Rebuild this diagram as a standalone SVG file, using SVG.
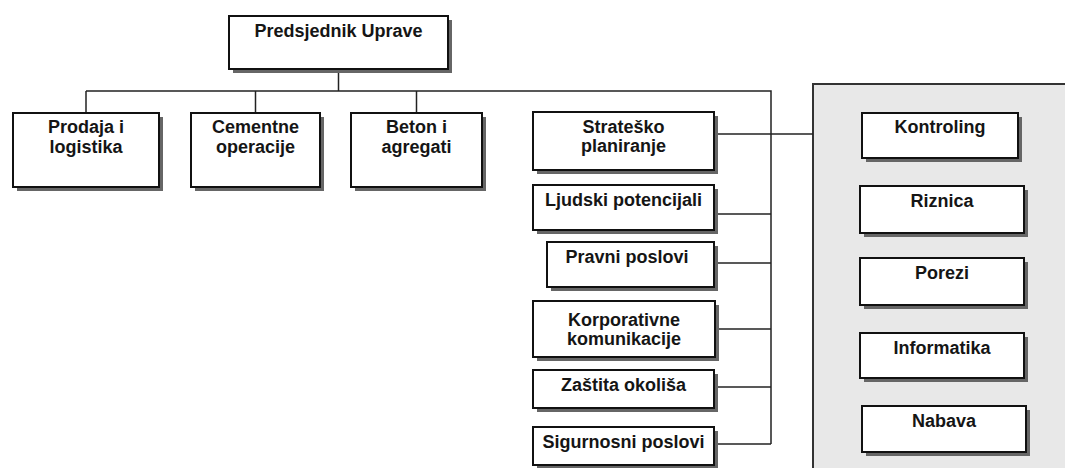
<svg xmlns="http://www.w3.org/2000/svg" width="1065" height="468" viewBox="0 0 1065 468">
<defs>
<style>
.box rect.b{fill:#fff;stroke:#111;stroke-width:2}
.box rect.s{fill:#666}
.box text{font-family:"Liberation Sans",Arial,sans-serif;font-weight:bold;font-size:18px;fill:#151515;text-anchor:middle}
.conn path{fill:none;stroke:#222;stroke-width:1.5}
.panel{fill:#e8e8e8;stroke:#333;stroke-width:2}
</style>
</defs>
<rect width="1065" height="468" fill="#fff"/>
<rect id="panel" class="panel" x="813" y="84" width="300" height="420"/>
<g id="connectors" class="conn">
<path d="M338.5,69 V91"/>
<path d="M86,91 H771 V444"/>
<path d="M86,91 V113"/>
<path d="M255.5,91 V113"/>
<path d="M416.5,91 V113"/>
<path d="M714,134 H813"/>
<path d="M714,214 H771"/>
<path d="M714,263 H771"/>
<path d="M715,329 H771"/>
<path d="M714,387 H771"/>
<path d="M714,444 H771"/>
</g>
<g id="predsjednik" class="box"><rect class="s" x="233" y="20" width="219" height="53"/><rect class="b" x="229" y="16" width="219" height="53"/><text x="338.5" y="37">Predsjednik Uprave</text></g>
<g id="prodaja" class="box"><rect class="s" x="17" y="117" width="146" height="74"/><rect class="b" x="13" y="113" width="146" height="74"/><text x="86" y="133">Prodaja i</text><text x="86" y="153">logistika</text></g>
<g id="cementne" class="box"><rect class="s" x="195" y="117" width="129" height="74"/><rect class="b" x="191" y="113" width="129" height="74"/><text x="255.5" y="133">Cementne</text><text x="255.5" y="153">operacije</text></g>
<g id="beton" class="box"><rect class="s" x="355" y="117" width="131" height="74"/><rect class="b" x="351" y="113" width="131" height="74"/><text x="416.5" y="133">Beton i</text><text x="416.5" y="153">agregati</text></g>
<g id="strategija" class="box"><rect class="s" x="537" y="116" width="181" height="58"/><rect class="b" x="533" y="112" width="181" height="58"/><text x="623.5" y="133">Strateško</text><text x="623.5" y="152">planiranje</text></g>
<g id="ljudski" class="box"><rect class="s" x="537" y="189" width="181" height="45"/><rect class="b" x="533" y="185" width="181" height="45"/><text x="623.5" y="206">Ljudski potencijali</text></g>
<g id="pravni" class="box"><rect class="s" x="551" y="246" width="167" height="45"/><rect class="b" x="547" y="242" width="167" height="45"/><text x="627" y="263">Pravni poslovi</text></g>
<g id="korporativne" class="box"><rect class="s" x="537" y="305" width="182" height="56"/><rect class="b" x="533" y="301" width="182" height="56"/><text x="624" y="326">Korporativne</text><text x="624" y="345">komunikacije</text></g>
<g id="zastita" class="box"><rect class="s" x="537" y="374" width="181" height="38"/><rect class="b" x="533" y="370" width="181" height="38"/><text x="623.5" y="391">Zaštita okoliša</text></g>
<g id="sigurnosni" class="box"><rect class="s" x="537" y="431" width="181" height="38"/><rect class="b" x="533" y="427" width="181" height="38"/><text x="623.5" y="448">Sigurnosni poslovi</text></g>
<g id="kontroling" class="box"><rect class="s" x="866" y="117" width="156" height="45"/><rect class="b" x="862" y="113" width="156" height="45"/><text x="940" y="133">Kontroling</text></g>
<g id="riznica" class="box"><rect class="s" x="864" y="190" width="164" height="47"/><rect class="b" x="860" y="186" width="164" height="47"/><text x="942" y="207">Riznica</text></g>
<g id="porezi" class="box"><rect class="s" x="864" y="262" width="164" height="47"/><rect class="b" x="860" y="258" width="164" height="47"/><text x="942" y="279">Porezi</text></g>
<g id="informatika" class="box"><rect class="s" x="864" y="337" width="164" height="45"/><rect class="b" x="860" y="333" width="164" height="45"/><text x="942" y="354">Informatika</text></g>
<g id="nabava" class="box"><rect class="s" x="866" y="410" width="164" height="46"/><rect class="b" x="862" y="406" width="164" height="46"/><text x="944" y="427">Nabava</text></g>
</svg>
